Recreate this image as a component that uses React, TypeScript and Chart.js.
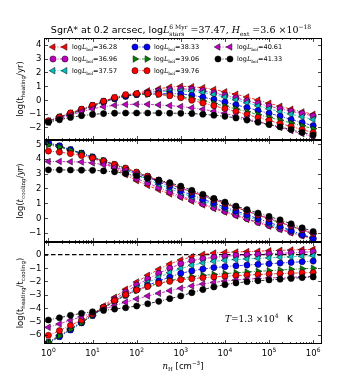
import React, { useEffect, useRef } from 'react';
import { Chart, registerables } from 'chart.js';
Chart.register(...registerables);

// densities n_H [cm^-3]
const nH = [1, 1.778, 3.162, 5.623, 10, 17.78, 31.62, 56.23, 100, 177.8, 316.2, 562.3, 1000, 1778, 3162, 5623, 10000, 17783, 31623, 56234, 100000, 177828, 316228, 562341, 1000000];

const seriesLabels = ['36.28', '36.96', '37.57', '38.33', '39.06', '39.76', '40.61', '41.33'];
const seriesColors = ['#ff0000', '#bf00bf', '#00bfbf', '#0000ff', '#008000', '#ff0000', '#bf00bf', '#000000'];
const seriesMarkers = ['tl', 'circle', 'tl', 'circle', 'tr', 'circle', 'tl', 'circle'];

// log(t_heating/yr)
const heat3628 = [-1.55, -1.23, -0.97, -0.72, -0.45, -0.12, 0.15, 0.33, 0.47, 0.65, 0.8, 0.92, 0.98, 0.95, 0.88, 0.75, 0.58, 0.4, 0.2, -0.02, -0.25, -0.47, -0.68, -0.88, -1.05];
const heat3696 = [-1.55, -1.25, -1.0, -0.75, -0.47, -0.17, 0.08, 0.25, 0.4, 0.53, 0.65, 0.74, 0.79, 0.77, 0.66, 0.5, 0.33, 0.14, -0.07, -0.28, -0.46, -0.65, -0.83, -1.0, -1.18];
const heat3757 = [-1.55, -1.25, -1.0, -0.74, -0.45, -0.17, 0.09, 0.29, 0.42, 0.5, 0.58, 0.63, 0.65, 0.62, 0.53, 0.38, 0.2, 0.0, -0.22, -0.44, -0.66, -0.86, -1.04, -1.24, -1.43];
const heat3833 = [-1.55, -1.27, -1.03, -0.72, -0.42, -0.13, 0.1, 0.27, 0.38, 0.43, 0.45, 0.45, 0.43, 0.33, 0.19, 0.03, -0.17, -0.37, -0.57, -0.78, -0.98, -1.19, -1.43, -1.66, -1.88];
const heat3906 = [-1.6, -1.3, -1.02, -0.73, -0.42, -0.12, 0.12, 0.31, 0.38, 0.4, 0.38, 0.33, 0.23, 0.09, -0.07, -0.26, -0.46, -0.66, -0.86, -1.07, -1.27, -1.48, -1.68, -1.89, -2.1];
const heat3976 = [-1.53, -1.25, -0.95, -0.68, -0.4, -0.1, 0.17, 0.37, 0.45, 0.45, 0.41, 0.3, 0.15, -0.03, -0.23, -0.43, -0.64, -0.85, -1.07, -1.29, -1.5, -1.72, -1.94, -2.16, -2.39];
const heat4061 = [-1.63, -1.38, -1.12, -0.87, -0.66, -0.5, -0.4, -0.34, -0.32, -0.33, -0.37, -0.42, -0.49, -0.58, -0.69, -0.83, -0.99, -1.17, -1.37, -1.58, -1.79, -2.01, -2.24, -2.46, -2.69];
const heat4133 = [-1.63, -1.45, -1.28, -1.15, -1.06, -1.0, -0.97, -0.96, -0.96, -0.96, -0.96, -0.97, -0.98, -1.0, -1.05, -1.12, -1.2, -1.32, -1.47, -1.63, -1.8, -1.97, -2.16, -2.36, -2.56];

// log(t_cooling/yr)
const cool3628 = [5.0, 4.82, 4.58, 4.33, 4.05, 3.73, 3.35, 2.93, 2.52, 2.2, 1.9, 1.62, 1.38, 1.13, 0.88, 0.63, 0.39, 0.14, -0.1, -0.33, -0.56, -0.79, -1.01, -1.22, -1.42];
const cool3696 = [5.05, 4.85, 4.6, 4.35, 4.08, 3.78, 3.43, 3.03, 2.66, 2.36, 2.05, 1.76, 1.47, 1.22, 0.96, 0.7, 0.45, 0.2, -0.05, -0.3, -0.52, -0.75, -0.97, -1.18, -1.4];
const cool3757 = [5.05, 4.85, 4.6, 4.36, 4.1, 3.83, 3.54, 3.24, 2.92, 2.6, 2.28, 1.98, 1.7, 1.42, 1.15, 0.88, 0.62, 0.36, 0.1, -0.16, -0.42, -0.66, -0.88, -1.12, -1.35];
const cool3833 = [5.1, 4.88, 4.62, 4.38, 4.13, 3.87, 3.6, 3.32, 3.03, 2.73, 2.43, 2.13, 1.83, 1.55, 1.27, 1.0, 0.73, 0.47, 0.21, -0.05, -0.3, -0.56, -0.85, -1.13, -1.4];
const cool3906 = [4.95, 4.8, 4.58, 4.37, 4.13, 3.88, 3.62, 3.36, 3.08, 2.8, 2.53, 2.26, 2.0, 1.74, 1.48, 1.22, 0.96, 0.7, 0.44, 0.18, -0.07, -0.33, -0.58, -0.83, -1.08];
const cool3976 = [4.52, 4.45, 4.35, 4.22, 4.05, 3.85, 3.62, 3.37, 3.1, 2.83, 2.56, 2.3, 2.03, 1.77, 1.5, 1.24, 0.98, 0.72, 0.46, 0.2, -0.05, -0.3, -0.55, -0.8, -1.05];
const cool4061 = [3.82, 3.82, 3.8, 3.78, 3.72, 3.6, 3.42, 3.22, 3.0, 2.77, 2.53, 2.28, 2.03, 1.77, 1.51, 1.25, 0.99, 0.73, 0.47, 0.21, -0.04, -0.29, -0.55, -0.8, -1.05];
const cool4133 = [3.25, 3.25, 3.24, 3.23, 3.22, 3.18, 3.12, 3.0, 2.85, 2.68, 2.55, 2.38, 2.15, 1.87, 1.6, 1.32, 1.07, 0.8, 0.56, 0.33, 0.1, -0.13, -0.4, -0.67, -0.92];

// log(t_heating/t_cooling)
const ratio3628 = [-6.55, -6.05, -5.55, -5.05, -4.5, -3.85, -3.2, -2.6, -2.05, -1.55, -1.1, -0.7, -0.4, -0.15, 0.02, 0.12, 0.17, 0.2, 0.23, 0.26, 0.29, 0.32, 0.35, 0.38, 0.4];
const ratio3696 = [-6.6, -6.1, -5.6, -5.1, -4.55, -3.95, -3.35, -2.8, -2.28, -1.83, -1.4, -1.02, -0.68, -0.45, -0.3, -0.2, -0.12, -0.06, -0.02, 0.02, 0.06, 0.1, 0.14, 0.18, 0.22];
const ratio3757 = [-6.6, -6.1, -5.6, -5.1, -4.55, -4.0, -3.45, -2.95, -2.5, -2.1, -1.7, -1.35, -1.05, -0.8, -0.62, -0.5, -0.42, -0.36, -0.32, -0.28, -0.24, -0.2, -0.16, -0.12, -0.08];
const ratio3833 = [-6.65, -6.15, -5.65, -5.1, -4.55, -4.0, -3.5, -3.05, -2.65, -2.3, -1.98, -1.68, -1.4, -1.22, -1.08, -0.97, -0.9, -0.84, -0.78, -0.73, -0.68, -0.63, -0.58, -0.53, -0.48];
const ratio3906 = [-6.55, -6.1, -5.6, -5.1, -4.55, -4.0, -3.5, -3.05, -2.7, -2.4, -2.15, -1.93, -1.77, -1.65, -1.55, -1.48, -1.42, -1.36, -1.3, -1.25, -1.2, -1.15, -1.1, -1.06, -1.02];
const ratio3976 = [-6.05, -5.7, -5.3, -4.9, -4.45, -3.95, -3.45, -3.0, -2.65, -2.38, -2.15, -2.0, -1.88, -1.8, -1.73, -1.67, -1.62, -1.57, -1.53, -1.49, -1.45, -1.42, -1.39, -1.36, -1.34];
const ratio4061 = [-5.45, -5.2, -4.92, -4.65, -4.38, -4.1, -3.82, -3.56, -3.32, -3.1, -2.9, -2.7, -2.52, -2.35, -2.2, -2.08, -1.98, -1.9, -1.84, -1.79, -1.75, -1.72, -1.69, -1.66, -1.64];
const ratio4133 = [-4.9, -4.73, -4.55, -4.4, -4.28, -4.18, -4.08, -3.98, -3.85, -3.68, -3.5, -3.3, -3.1, -2.85, -2.62, -2.42, -2.25, -2.12, -2.03, -1.96, -1.9, -1.84, -1.78, -1.72, -1.67];

const heatSeries = [heat3628, heat3696, heat3757, heat3833, heat3906, heat3976, heat4061, heat4133];
const coolSeries = [cool3628, cool3696, cool3757, cool3833, cool3906, cool3976, cool4061, cool4133];
const ratioSeries = [ratio3628, ratio3696, ratio3757, ratio3833, ratio3906, ratio3976, ratio4061, ratio4133];

const xDecades = [1, 10, 100, 1000, 10000, 100000, 1000000];
const xDecadeExp = ['0', '1', '2', '3', '4', '5', '6'];
const yTicksHeat = [-2, -1, 0, 1, 2, 3, 4];
const yTicksCool = [-1, 0, 1, 2, 3, 4, 5];
const yTicksRatio = [-6, -5, -4, -3, -2, -1, 0];

const W = 357, H = 383;
const SANS = "'DejaVu Sans', sans-serif";
const SERIF = "'DejaVu Serif', serif";
const fnt = (size: number, fam: string, style = '') => `${style} ${size}px ${fam}`.trim();

type P = { t: string; f: string; dy?: number; overlap?: boolean };

function partsWidth(ctx: CanvasRenderingContext2D, parts: P[]) {
  let w = 0, pend = 0;
  for (const p of parts) {
    ctx.font = p.f;
    const pw = ctx.measureText(p.t).width;
    if (p.overlap) pend = Math.max(pend, pw);
    else { w += Math.max(pend, pw); pend = 0; }
  }
  return w + pend;
}
function drawParts(ctx: CanvasRenderingContext2D, parts: P[], x: number, y: number, align: 'left' | 'center' | 'right') {
  const tw = partsWidth(ctx, parts);
  let cx = align === 'left' ? x : align === 'center' ? x - tw / 2 : x - tw;
  ctx.textAlign = 'left';
  ctx.textBaseline = 'alphabetic';
  let pend = 0;
  for (const p of parts) {
    ctx.font = p.f;
    const pw = ctx.measureText(p.t).width;
    ctx.fillText(p.t, cx, y + (p.dy || 0));
    if (p.overlap) pend = Math.max(pend, pw);
    else { cx += Math.max(pend, pw); pend = 0; }
  }
}

const CIRCLE_R = 3.1;
const TRI_R = 3.8;

function drawMarker(ctx: CanvasRenderingContext2D, kind: string, x: number, y: number, color: string) {
  ctx.save();
  ctx.fillStyle = color;
  ctx.strokeStyle = '#000';
  ctx.lineWidth = 0.5;
  ctx.setLineDash([]);
  ctx.beginPath();
  if (kind === 'circle') {
    ctx.arc(x, y, CIRCLE_R, 0, Math.PI * 2);
  } else {
    let rad = (kind === 'tl' ? -90 : 90) * Math.PI / 180;
    const r = TRI_R;
    ctx.moveTo(x + Math.sin(rad) * r, y - Math.cos(rad) * r);
    rad += 2 * Math.PI / 3;
    ctx.lineTo(x + Math.sin(rad) * r, y - Math.cos(rad) * r);
    rad += 2 * Math.PI / 3;
    ctx.lineTo(x + Math.sin(rad) * r, y - Math.cos(rad) * r);
    ctx.closePath();
  }
  ctx.fill();
  ctx.stroke();
  ctx.restore();
}

const LINE_DASH = [3, 1.5, 1, 1.5];
const TICK_F = 8.5;
const LAB_F = 8.5;
const LAB_SUB = 5.6;

const PANELS = [
  {
    series: heatSeries, top: 38, bottom: 140, ymin: -2.92, ymax: 4.49, yTicks: yTicksHeat,
    ylabel: [
      { t: 'log(t', f: fnt(LAB_F, SANS) },
      { t: 'heating', f: fnt(LAB_SUB, SANS), dy: 2 },
      { t: '/yr)', f: fnt(LAB_F, SANS) },
    ] as P[],
  },
  {
    series: coolSeries, top: 140, bottom: 242, ymin: -1.63, ymax: 5.27, yTicks: yTicksCool,
    ylabel: [
      { t: 'log(', f: fnt(LAB_F, SANS) },
      { t: 't', f: fnt(LAB_F, SERIF, 'italic') },
      { t: 'cooling', f: fnt(LAB_SUB, SERIF), dy: 2 },
      { t: '/', f: fnt(LAB_F, SERIF) },
      { t: 'yr', f: fnt(LAB_F, SERIF, 'italic') },
      { t: ')', f: fnt(LAB_F, SANS) },
    ] as P[],
  },
  {
    series: ratioSeries, top: 242, bottom: 344, ymin: -6.7, ymax: 0.95, yTicks: yTicksRatio,
    ylabel: [
      { t: 'log(t', f: fnt(LAB_F, SANS) },
      { t: 'heating', f: fnt(LAB_SUB, SANS), dy: 2 },
      { t: '/t', f: fnt(LAB_F, SANS) },
      { t: 'cooling', f: fnt(LAB_SUB, SANS), dy: 2 },
      { t: ')', f: fnt(LAB_F, SANS) },
    ] as P[],
  },
];

const LEFT = 44, RIGHT = 322;
const XMIN = Math.pow(10, -0.1), XMAX = Math.pow(10, 6.2);

function makeConfig(panelIndex: number): any {
  const panel = PANELS[panelIndex];
  const datasets = panel.series.map((vals, i) => {
    const m = seriesMarkers[i];
    return {
      label: seriesLabels[i],
      data: nH.map((x, j) => ({ x, y: vals[j] })),
      borderColor: seriesColors[i],
      borderWidth: 0.8,
      borderDash: LINE_DASH,
      tension: 0,
      fill: false,
      pointStyle: m === 'circle' ? 'circle' : 'triangle',
      pointRotation: m === 'tl' ? -90 : m === 'tr' ? 90 : 0,
      pointRadius: m === 'circle' ? CIRCLE_R : TRI_R,
      pointBackgroundColor: seriesColors[i],
      pointBorderColor: '#000',
      pointBorderWidth: 0.5,
      order: seriesLabels.length - i,
    };
  });

  const framePlugin = {
    id: 'frame' + panelIndex,
    beforeDatasetsDraw(chart: any) {
      if (panelIndex !== 2) return;
      const { ctx, chartArea: a, scales } = chart;
      const y0 = scales.y.getPixelForValue(0);
      ctx.save();
      ctx.strokeStyle = '#000';
      ctx.lineWidth = 1.2;
      ctx.setLineDash([4.5, 2.5]);
      ctx.beginPath();
      ctx.moveTo(a.left, y0);
      ctx.lineTo(a.right, y0);
      ctx.stroke();
      ctx.restore();
    },
    afterDraw(chart: any) {
      const { ctx, chartArea: a, scales } = chart;
      const xs = scales.x, ys = scales.y;
      ctx.save();
      ctx.setLineDash([]);
      ctx.strokeStyle = '#000';
      ctx.fillStyle = '#000';
      ctx.lineWidth = 1;
      ctx.strokeRect(a.left + 0.5, a.top + 0.5, a.right - a.left - 1, a.bottom - a.top - 1);
      // x ticks (inward, top and bottom)
      ctx.lineWidth = 0.7;
      ctx.beginPath();
      for (let k = -1; k <= 6; k++) {
        for (let mm = 1; mm <= 9; mm++) {
          const v = mm * Math.pow(10, k);
          if (v < XMIN || v > XMAX) continue;
          const px = Math.round(xs.getPixelForValue(v)) + 0.5;
          const len = mm === 1 ? 4 : 2;
          ctx.moveTo(px, a.bottom); ctx.lineTo(px, a.bottom - len);
          ctx.moveTo(px, a.top); ctx.lineTo(px, a.top + len);
        }
      }
      // y ticks (inward, left and right)
      for (const v of panel.yTicks) {
        const py = Math.round(ys.getPixelForValue(v)) + 0.5;
        ctx.moveTo(a.left, py); ctx.lineTo(a.left + 4, py);
        ctx.moveTo(a.right, py); ctx.lineTo(a.right - 4, py);
      }
      ctx.stroke();
      // y tick labels
      ctx.font = fnt(TICK_F, SANS);
      ctx.textAlign = 'right';
      ctx.textBaseline = 'middle';
      for (const v of panel.yTicks) {
        const py = ys.getPixelForValue(v);
        ctx.fillText(v < 0 ? '\u2212' + Math.abs(v) : String(v), a.left - 2.5, py + 0.5);
      }
      // y axis title
      ctx.save();
      ctx.translate(23, (a.top + a.bottom) / 2);
      ctx.rotate(-Math.PI / 2);
      drawParts(ctx, panel.ylabel, 0, 0, 'center');
      ctx.restore();

      if (panelIndex === 0) {
        // title
        drawParts(ctx, [
          { t: 'SgrA* at 0.2 arcsec, log', f: fnt(9.5, SANS) },
          { t: 'L', f: fnt(9.5, SERIF, 'italic') },
          { t: '6 Myr', f: fnt(6, SERIF), dy: -4.5, overlap: true },
          { t: 'stars', f: fnt(6, SERIF), dy: 2.5 },
          { t: ' =37.47, ', f: fnt(9.5, SERIF) },
          { t: 'H', f: fnt(9.5, SERIF, 'italic') },
          { t: 'ext', f: fnt(6, SERIF), dy: 2.5 },
          { t: ' =3.6 \u00d710', f: fnt(9.5, SERIF) },
          { t: '\u221218', f: fnt(6, SERIF), dy: -4.5 },
        ], 181, 33, 'center');
        // legend
        const colX = [72, 154, 237];
        const rowY = [47, 59, 70.7];
        seriesLabels.forEach((lab, i) => {
          const col = Math.floor(i / 3), row = i % 3;
          const tx = colX[col], ty = rowY[row];
          ctx.save();
          ctx.strokeStyle = seriesColors[i];
          ctx.lineWidth = 0.8;
          ctx.setLineDash(LINE_DASH);
          ctx.beginPath();
          ctx.moveTo(tx - 19, ty); ctx.lineTo(tx - 7, ty);
          ctx.stroke();
          ctx.restore();
          drawMarker(ctx, seriesMarkers[i], tx - 19, ty, seriesColors[i]);
          drawMarker(ctx, seriesMarkers[i], tx - 7, ty, seriesColors[i]);
          ctx.fillStyle = '#000';
          drawParts(ctx, [
            { t: 'log', f: fnt(6.5, SANS) },
            { t: 'L', f: fnt(6.5, SERIF, 'italic') },
            { t: 'bol', f: fnt(4.4, SERIF), dy: 1.5 },
            { t: '=' + lab, f: fnt(6.5, SANS) },
          ], tx, ty + 2.4, 'left');
        });
      }
      if (panelIndex === 2) {
        // x tick labels
        xDecades.forEach((v, k) => {
          const px = xs.getPixelForValue(v);
          drawParts(ctx, [
            { t: '10', f: fnt(TICK_F, SANS) },
            { t: xDecadeExp[k], f: fnt(6, SANS), dy: -4 },
          ], px, 356, 'center');
        });
        // x axis title
        drawParts(ctx, [
          { t: 'n', f: fnt(LAB_F, SERIF, 'italic') },
          { t: 'H', f: fnt(LAB_SUB, SERIF), dy: 2 },
          { t: ' [cm', f: fnt(LAB_F, SANS) },
          { t: '\u22123', f: fnt(LAB_SUB, SANS), dy: -3.6 },
          { t: ']', f: fnt(LAB_F, SANS) },
        ], (a.left + a.right) / 2, 369, 'center');
        // temperature annotation
        drawParts(ctx, [
          { t: 'T', f: fnt(9, SERIF, 'italic') },
          { t: '=1.3 \u00d710', f: fnt(9, SERIF) },
          { t: '4', f: fnt(6, SERIF), dy: -4 },
          { t: '   K', f: fnt(9, SANS) },
        ], 225, 322, 'left');
      }
      ctx.restore();
    },
  };

  return {
    type: 'line',
    data: { datasets },
    options: {
      responsive: false,
      animation: false,
      devicePixelRatio: 1,
      layout: { padding: { left: LEFT, right: W - RIGHT, top: panel.top, bottom: H - panel.bottom } },
      scales: {
        x: { type: 'logarithmic', min: XMIN, max: XMAX, display: false },
        y: { type: 'linear', min: panel.ymin, max: panel.ymax, display: false },
      },
      plugins: { legend: { display: false }, tooltip: { enabled: false }, title: { display: false } },
      events: [],
    },
    plugins: [framePlugin],
  };
}

export default function App() {
  const r0 = useRef<HTMLCanvasElement>(null);
  const r1 = useRef<HTMLCanvasElement>(null);
  const r2 = useRef<HTMLCanvasElement>(null);
  useEffect(() => {
    const refs = [r0, r1, r2];
    const charts = refs.map((r, i) => new Chart(r.current as HTMLCanvasElement, makeConfig(i)));
    return () => charts.forEach((c) => c.destroy());
  }, []);
  const st: React.CSSProperties = { position: 'absolute', left: 0, top: 0, width: W, height: H };
  return (
    <div style={{ position: 'fixed', left: 0, top: 0, width: W, height: H, background: '#fff' }}>
      <canvas ref={r0} width={W} height={H} style={st} />
      <canvas ref={r1} width={W} height={H} style={st} />
      <canvas ref={r2} width={W} height={H} style={st} />
    </div>
  );
}
